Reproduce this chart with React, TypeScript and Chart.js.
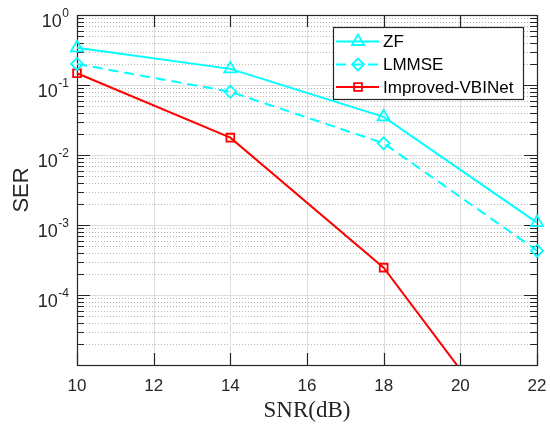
import React, { useEffect, useRef } from "react";
import { Chart, registerables } from "chart.js";

Chart.register(...registerables);

// ---- data ----
const snrDb = [10, 14, 18, 22];
const zfSER = [0.34, 0.17, 0.035, 1.08e-3];
const lmmseSER = [0.2, 0.08, 0.0147, 4.3e-4];
const vbinetSER = [0.147, 0.0177, 2.46e-4, 3e-7];

const seriesLabels = ["ZF", "LMMSE", "Improved-VBINet"];
const xTicks = [10, 12, 14, 16, 18, 20, 22];
const yDecades = [-5, -4, -3, -2, -1, 0];
const yLabelledDecades = [0, -1, -2, -3, -4];
const xTitle = "SNR(dB)";
const yTitle = "SER";

const AXIS = "#262626";
const SANS = "'Liberation Sans', Arial, sans-serif";
const SERIF = "'Liberation Serif', 'Times New Roman', serif";

function drawMarker(ctx: CanvasRenderingContext2D, style: string, x: number, y: number, r: number) {
  ctx.beginPath();
  if (style === "triangle") {
    const e = r * Math.sqrt(3);
    const h = (e * Math.sqrt(3)) / 2;
    ctx.moveTo(x - e / 2, y + h / 3);
    ctx.lineTo(x + e / 2, y + h / 3);
    ctx.lineTo(x, y - (2 * h) / 3);
    ctx.closePath();
  } else if (style === "rectRot") {
    ctx.moveTo(x - r, y);
    ctx.lineTo(x, y - r);
    ctx.lineTo(x + r, y);
    ctx.lineTo(x, y + r);
    ctx.closePath();
  } else {
    const s = r * Math.SQRT1_2;
    ctx.rect(x - s, y - s, 2 * s, 2 * s);
  }
  ctx.stroke();
}

const matlabPlugin = {
  id: "matlabAxes",
  beforeDatasetsDraw(chart: any) {
    const { ctx, chartArea: a, scales } = chart;
    const xs = scales.x;
    const ys = scales.y;
    ctx.save();
    // minor y grid (dotted)
    ctx.lineWidth = 1;
    ctx.strokeStyle = "#b8b8b8";
    ctx.setLineDash([1, 2]);
    for (const d of yDecades) {
      for (let k = 2; k <= 9; k++) {
        const v = k * Math.pow(10, d);
        if (v >= ys.max) continue;
        const py = Math.round(ys.getPixelForValue(v)) + 0.5;
        ctx.beginPath();
        ctx.moveTo(a.left, py);
        ctx.lineTo(a.right, py);
        ctx.stroke();
      }
    }
    // major grid
    ctx.setLineDash([]);
    ctx.strokeStyle = "#dedede";
    for (const t of xTicks) {
      const px = Math.round(xs.getPixelForValue(t)) + 0.5;
      ctx.beginPath();
      ctx.moveTo(px, a.top);
      ctx.lineTo(px, a.bottom);
      ctx.stroke();
    }
    for (const d of yDecades) {
      const py = Math.round(ys.getPixelForValue(Math.pow(10, d))) + 0.5;
      ctx.beginPath();
      ctx.moveTo(a.left, py);
      ctx.lineTo(a.right, py);
      ctx.stroke();
    }
    // ticks (inward)
    ctx.strokeStyle = AXIS;
    ctx.lineWidth = 1.2;
    for (const t of xTicks) {
      const px = Math.round(xs.getPixelForValue(t)) + 0.5;
      ctx.beginPath();
      ctx.moveTo(px, a.bottom);
      ctx.lineTo(px, a.bottom - 12);
      ctx.moveTo(px, a.top);
      ctx.lineTo(px, a.top + 12);
      ctx.stroke();
    }
    for (const d of yDecades) {
      for (let k = 1; k <= 9; k++) {
        const v = k * Math.pow(10, d);
        if (v > ys.max) continue;
        const len = k === 1 ? 13 : 7;
        const py = Math.round(ys.getPixelForValue(v)) + 0.5;
        ctx.beginPath();
        ctx.moveTo(a.left, py);
        ctx.lineTo(a.left + len, py);
        ctx.moveTo(a.right, py);
        ctx.lineTo(a.right - len, py);
        ctx.stroke();
      }
    }
    // box
    ctx.strokeStyle = AXIS;
    ctx.lineWidth = 1.2;
    ctx.strokeRect(Math.round(a.left) + 0.5, Math.round(a.top) + 0.5, Math.round(a.right - a.left), Math.round(a.bottom - a.top));

    // tick labels
    ctx.fillStyle = AXIS;
    ctx.font = `17px ${SANS}`;
    ctx.textAlign = "center";
    ctx.textBaseline = "alphabetic";
    for (const t of xTicks) {
      ctx.fillText(String(t), xs.getPixelForValue(t), a.bottom + 26);
    }
    for (const d of yLabelledDecades) {
      const py = ys.getPixelForValue(Math.pow(10, d));
      const exp = d < 0 ? "-" + String(-d) : String(d);
      ctx.font = `12px ${SANS}`;
      ctx.textAlign = "right";
      const right = a.left - 8;
      ctx.fillText(exp, right, py + 2);
      const ew = ctx.measureText(exp).width;
      ctx.font = `18px ${SANS}`;
      ctx.fillText("10", right - ew - 0.5, py + 12);
    }
    // titles
    ctx.textAlign = "center";
    ctx.textBaseline = "middle";
    ctx.font = `23px ${SERIF}`;
    ctx.fillText(xTitle, (a.left + a.right) / 2, 411);
    ctx.save();
    ctx.translate(22, (a.top + a.bottom) / 2);
    ctx.rotate(-Math.PI / 2);
    ctx.font = `22px ${SANS}`;
    ctx.fillText(yTitle, 0, 0);
    ctx.restore();
    ctx.restore();
  },
  afterDatasetsDraw(chart: any) {
    const { ctx } = chart;
    ctx.save();
    const bx = 333.5, by = 27.5, bw = 190, bh = 72;
    ctx.fillStyle = "#ffffff";
    ctx.fillRect(bx, by, bw, bh);
    ctx.strokeStyle = AXIS;
    ctx.lineWidth = 1.2;
    ctx.strokeRect(bx, by, bw, bh);
    const rows = [41.5, 64.5, 87];
    chart.data.datasets.forEach((ds: any, i: number) => {
      const y = rows[i];
      ctx.strokeStyle = ds.borderColor;
      ctx.lineWidth = ds.borderWidth;
      ctx.setLineDash(ds.borderDash || []);
      ctx.beginPath();
      ctx.moveTo(336, y);
      ctx.lineTo(379, y);
      ctx.stroke();
      ctx.setLineDash([]);
      ctx.lineWidth = ds.pointBorderWidth;
      drawMarker(ctx, ds.pointStyle, 358, y, ds.pointRadius);
      ctx.fillStyle = "#000000";
      ctx.font = `17px ${SANS}`;
      ctx.textAlign = "left";
      ctx.textBaseline = "middle";
      ctx.fillText(ds.label, 383, y + 1);
    });
    ctx.restore();
  },
};

export default function App() {
  const ref = useRef<HTMLCanvasElement | null>(null);
  useEffect(() => {
    if (!ref.current) return;
    const toPts = (ys: number[]) => snrDb.map((x, i) => ({ x, y: ys[i] }));
    const clip = { left: 12, top: 12, right: 12, bottom: 0 };
    const chart = new Chart(ref.current, {
      type: "line",
      data: {
        datasets: [
          {
            label: seriesLabels[0],
            data: toPts(zfSER),
            borderColor: "#00ffff",
            borderWidth: 2,
            pointStyle: "triangle",
            pointRadius: 7,
            pointBorderWidth: 1.8,
            pointBorderColor: "#00ffff",
            pointBackgroundColor: "rgba(0,0,0,0)",
            clip,
          },
          {
            label: seriesLabels[1],
            data: toPts(lmmseSER),
            borderColor: "#00ffff",
            borderWidth: 2,
            borderDash: [10, 6],
            pointStyle: "rectRot",
            pointRadius: 6,
            pointBorderWidth: 1.8,
            pointBorderColor: "#00ffff",
            pointBackgroundColor: "rgba(0,0,0,0)",
            clip,
          },
          {
            label: seriesLabels[2],
            data: toPts(vbinetSER),
            borderColor: "#ff0000",
            borderWidth: 2,
            pointStyle: "rect",
            pointRadius: 5.5,
            pointBorderWidth: 1.8,
            pointBorderColor: "#ff0000",
            pointBackgroundColor: "rgba(0,0,0,0)",
            clip,
          },
        ] as any,
      },
      options: {
        animation: false,
        responsive: false,
        devicePixelRatio: 1,
        layout: { padding: { left: 77, top: 15, right: 13, bottom: 59 } },
        scales: {
          x: { type: "linear", min: 10, max: 22, display: false },
          y: { type: "logarithmic", min: 1e-5, max: 1, display: false },
        },
        plugins: { legend: { display: false }, tooltip: { enabled: false } },
        elements: { line: { tension: 0 } },
      },
      plugins: [matlabPlugin as any],
    });
    return () => chart.destroy();
  }, []);
  return (
    <div style={{ position: "fixed", left: 0, top: 0, width: 550, height: 424, background: "#fff" }}>
      <canvas ref={ref} width={550} height={424} />
    </div>
  );
}
